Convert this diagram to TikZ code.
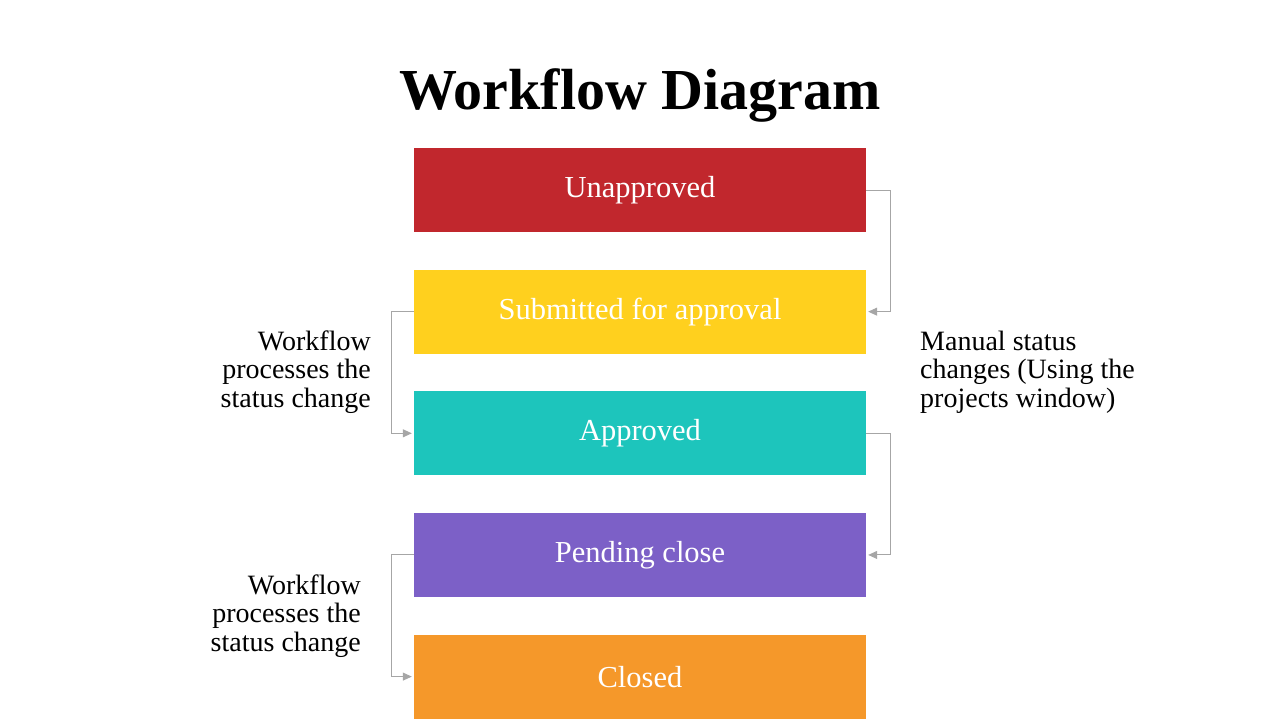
\documentclass[tikz,border=0pt]{standalone}
\usepackage{fontspec}
\setmainfont{Liberation Serif}
\usetikzlibrary{positioning,arrows.meta}
\definecolor{stagered}{HTML}{C1272D}
\definecolor{stageyellow}{HTML}{FFD01E}
\definecolor{stageteal}{HTML}{1DC5BC}
\definecolor{stagepurple}{HTML}{7C60C7}
\definecolor{stageorange}{HTML}{F5982A}
\definecolor{flowgrey}{HTML}{A6A6A6}
\tikzset{
  stagebox/.style={fill=#1, minimum width=452pt, minimum height=84pt, inner sep=0pt,
    text=white, font=\fontsize{30.5}{33}\selectfont},
  flow/.style={draw=flowgrey, line width=1pt, -{Triangle[length=9pt,width=8pt]}},
  sidenote/.style={font=\fontsize{28}{28.5}\selectfont, inner sep=0pt}
}
\begin{document}
\begin{tikzpicture}[x=1pt,y=1pt, node distance=37.25pt]
\useasboundingbox (0,0) rectangle (1280,-720);
\node[font=\bfseries\fontsize{58}{62}\selectfont] (title) at (640,-95) {Workflow Diagram};
% stages
\node[stagebox=stagered] (unapp) at (640,-190) {Unapproved};
\node[stagebox=stageyellow, below=of unapp] (submit) {Submitted for approval};
\node[stagebox=stageteal, below=of submit] (appr) {Approved};
\node[stagebox=stagepurple, below=of appr] (pend) {Pending close};
\node[stagebox=stageorange, below=of pend] (closed) {Closed};
% connectors
\draw[flow] (unapp.east) -- ++(24,0) |- ([xshift=2pt]submit.east);
\draw[flow] (appr.east) -- ++(24,0) |- ([xshift=2pt]pend.east);
\draw[flow] (submit.west) -- ++(-22,0) |- ([xshift=-2pt]appr.west);
\draw[flow] (pend.west) -- ++(-22,0) |- ([xshift=-2pt]closed.west);
% notes
\node[sidenote, align=right, anchor=east] (noteA) at (371,-372) {Workflow\\processes the\\status change};
\node[sidenote, align=left, anchor=west] (noteB) at (920,-372) {Manual status\\changes (Using the\\projects window)};
\node[sidenote, align=right, anchor=east] (noteC) at (361,-616) {Workflow\\processes the\\status change};
\end{tikzpicture}
\end{document}
